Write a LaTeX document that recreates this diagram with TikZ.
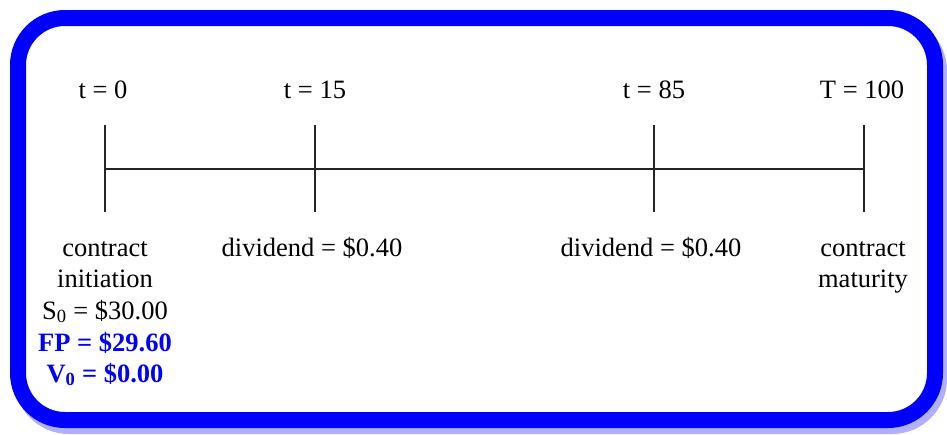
\documentclass[tikz,border=0pt]{standalone}
\usepackage{fontspec}
\setmainfont{Liberation Serif}
\definecolor{frameblue}{RGB}{0,0,255}
\definecolor{shadowblue}{RGB}{176,176,255}
\begin{document}
\begin{tikzpicture}[x=1pt,y=-1pt,
  lbl/.style={anchor=base,inner sep=0pt,font=\fontsize{26.5}{31.5}\selectfont},
  blbl/.style={lbl,text=frameblue,font=\fontsize{26.5}{31.5}\selectfont\bfseries},
  tl/.style={line width=1.3pt,draw=black!85}]
\useasboundingbox (0,0) rectangle (947,434);
% frame with shadow
\draw[shadowblue,line width=16pt,rounded corners=47pt] (22,24) rectangle (939,426);
\draw[frameblue,fill=white,line width=16pt,rounded corners=47pt] (18,18) rectangle (935,420);
% timeline coordinates
\coordinate (a0) at (105,125); \coordinate (a1) at (105,212); \coordinate (am) at (105,169);
\coordinate (b0) at (315,125); \coordinate (b1) at (315,212); \coordinate (bm) at (315,169);
\coordinate (c0) at (654,125); \coordinate (c1) at (654,212); \coordinate (cm) at (654,169);
\coordinate (d0) at (864,125); \coordinate (d1) at (864,212); \coordinate (dm) at (864,169);
\draw[tl] (am) -- (dm);
\draw[tl] (a0) -- (a1);
\draw[tl] (b0) -- (b1);
\draw[tl] (c0) -- (c1);
\draw[tl] (d0) -- (d1);
% top labels
\node[lbl] (t0) at (103,98) {t = 0};
\node[lbl] (t15) at (315,98) {t = 15};
\node[lbl] (t85) at (654,98) {t = 85};
\node[lbl] (t100) at (862,98) {T = 100};
% bottom left
\node[lbl] (ci1) at (105,256) {contract};
\node[lbl] (ci2) at (105,287) {initiation};
\node[lbl] (s0) at (105,319) {S\textsubscript{0} = \$30.00};
\node[blbl] (fp) at (105,351) {FP = \$29.60};
\node[blbl] (v0) at (105,382) {V\textsubscript{0} = \$0.00};
% dividends
\node[lbl] (dv1) at (312,256) {dividend = \$0.40};
\node[lbl] (dv2) at (651,256) {dividend = \$0.40};
% bottom right
\node[lbl] (cm1) at (863,256) {contract};
\node[lbl] (cm2) at (863,287) {maturity};
\end{tikzpicture}
\end{document}
